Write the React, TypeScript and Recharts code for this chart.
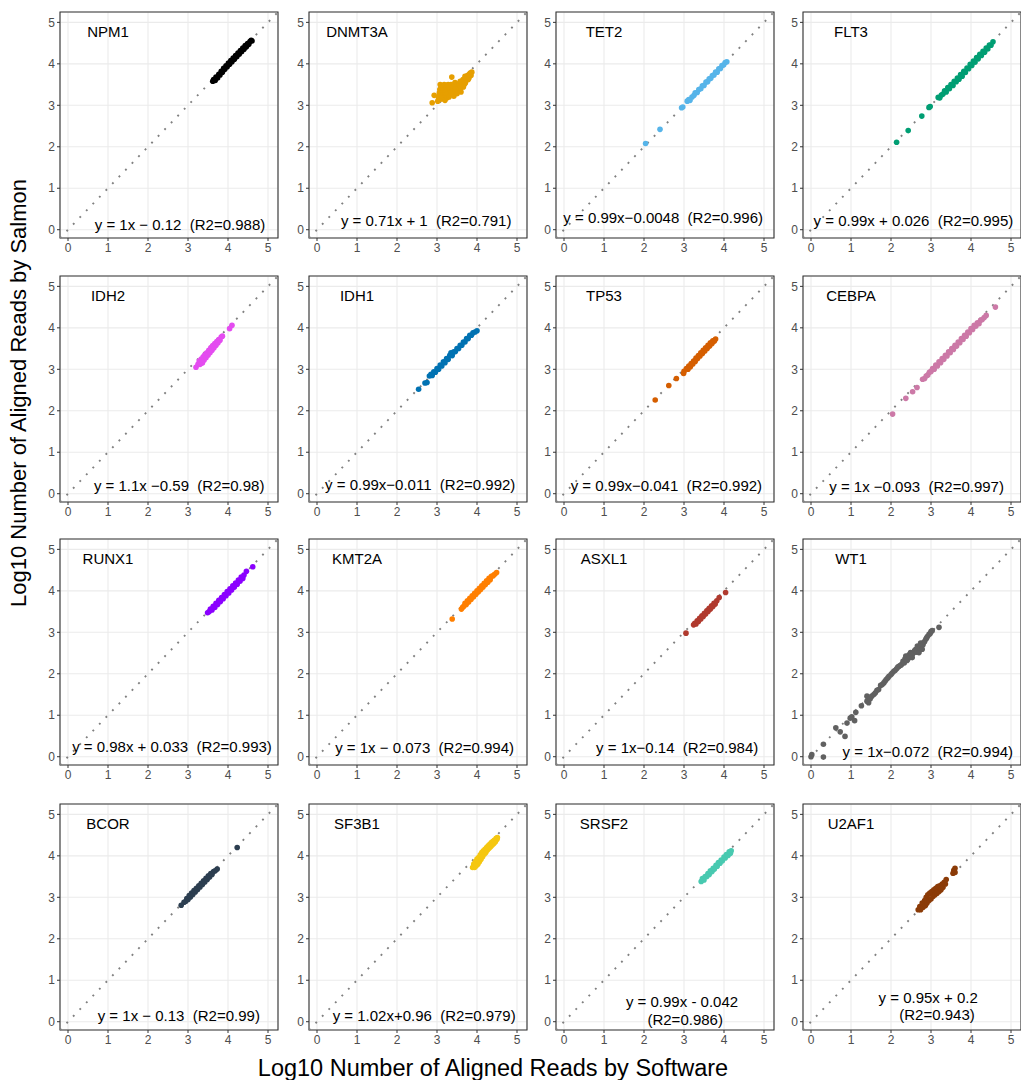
import React from 'react';
import { ScatterChart, Scatter, XAxis, YAxis, CartesianGrid, ReferenceLine, ReferenceArea } from 'recharts';

type P = [number, number];

const genes = ['NPM1', 'DNMT3A', 'TET2', 'FLT3', 'IDH2', 'IDH1', 'TP53', 'CEBPA', 'RUNX1', 'KMT2A', 'ASXL1', 'WT1', 'BCOR', 'SF3B1', 'SRSF2', 'U2AF1'];
const geneColors = ['#000000', '#E69F00', '#56B4E9', '#009E73', '#E44CF0', '#0072B2', '#D55E00', '#CC79A7', '#8B00FF', '#FF7F00', '#B03A2E', '#616161', '#2C3E50', '#F5C710', '#48C9B0', '#8B3B07'];
const axisTicks = [0, 1, 2, 3, 4, 5];

const npm1Points: P[] = [[3.62,3.58],[3.64,3.62],[3.68,3.6],[3.7,3.68],[3.74,3.66],[3.77,3.75],[3.8,3.73],[3.83,3.82],[3.86,3.8],[3.89,3.89],[3.92,3.87],[3.95,3.95],[3.98,3.93],[4.01,4.02],[4.04,3.99],[4.07,4.08],[4.1,4.05],[4.13,4.14],[4.16,4.11],[4.19,4.2],[4.22,4.17],[4.25,4.26],[4.28,4.23],[4.31,4.32],[4.34,4.29],[4.37,4.38],[4.4,4.35],[4.43,4.44],[4.46,4.41],[4.49,4.49],[4.52,4.47],[4.55,4.54],[4.58,4.57],[4.6,4.55]];
const dnmt3aPoints: P[] = [[2.88,3.06],[2.93,3.24],[3.02,3.1],[3.04,3.16],[3.05,3.22],[3.06,3.3],[3.07,3.38],[3.08,3.5],[3.1,3.3],[3.1,3.44],[3.12,3.15],[3.12,3.22],[3.15,3.28],[3.15,3.36],[3.15,3.42],[3.18,3.5],[3.18,3.2],[3.2,3.12],[3.2,3.32],[3.22,3.25],[3.22,3.42],[3.25,3.18],[3.25,3.38],[3.25,3.48],[3.28,3.3],[3.28,3.5],[3.3,3.2],[3.3,3.4],[3.3,3.45],[3.33,3.26],[3.35,3.3],[3.35,3.5],[3.37,3.68],[3.38,3.38],[3.4,3.42],[3.4,3.3],[3.42,3.22],[3.43,3.48],[3.45,3.35],[3.45,3.55],[3.48,3.42],[3.5,3.5],[3.5,3.28],[3.52,3.36],[3.55,3.4],[3.55,3.52],[3.58,3.58],[3.58,3.46],[3.6,3.32],[3.6,3.42],[3.62,3.48],[3.63,3.56],[3.65,3.62],[3.66,3.44],[3.68,3.5],[3.68,3.58],[3.7,3.7],[3.71,3.54],[3.72,3.6],[3.74,3.66],[3.76,3.72],[3.78,3.62],[3.8,3.66],[3.8,3.74],[3.83,3.78],[3.85,3.72],[3.87,3.8]];
const tet2Points: P[] = [[2.04,2.08],[2.4,2.42],[2.94,2.94],[2.97,2.96],[3.08,3.1],[3.12,3.14],[3.15,3.12],[3.2,3.2],[3.25,3.24],[3.28,3.3],[3.33,3.31],[3.37,3.38],[3.42,3.4],[3.46,3.47],[3.5,3.48],[3.55,3.56],[3.59,3.57],[3.63,3.64],[3.67,3.65],[3.71,3.72],[3.75,3.73],[3.79,3.8],[3.83,3.8],[3.87,3.88],[3.91,3.89],[3.95,3.96],[3.99,3.97],[4.03,4.03],[4.07,4.05]];
const flt3Points: P[] = [[2.14,2.11],[2.43,2.39],[2.77,2.74],[2.95,2.95],[2.98,2.97],[3.18,3.19],[3.22,3.18],[3.26,3.25],[3.3,3.27],[3.34,3.35],[3.38,3.32],[3.42,3.43],[3.46,3.4],[3.5,3.5],[3.55,3.48],[3.58,3.58],[3.63,3.57],[3.66,3.66],[3.7,3.63],[3.74,3.74],[3.78,3.7],[3.82,3.82],[3.86,3.79],[3.9,3.9],[3.94,3.88],[3.98,3.99],[4.02,3.96],[4.06,4.07],[4.1,4.04],[4.14,4.15],[4.18,4.12],[4.22,4.23],[4.26,4.2],[4.3,4.3],[4.34,4.28],[4.38,4.38],[4.42,4.36],[4.46,4.45],[4.5,4.45],[4.55,4.53]];
const idh2Points: P[] = [[3.2,3.05],[3.25,3.12],[3.28,3.2],[3.3,3.12],[3.33,3.25],[3.36,3.15],[3.38,3.3],[3.4,3.22],[3.42,3.35],[3.45,3.28],[3.47,3.4],[3.5,3.34],[3.52,3.46],[3.55,3.4],[3.57,3.52],[3.6,3.46],[3.62,3.57],[3.65,3.52],[3.67,3.62],[3.7,3.58],[3.72,3.67],[3.75,3.64],[3.77,3.72],[3.8,3.7],[3.83,3.78],[3.86,3.8],[4.04,3.98],[4.1,4.06]];
const idh1Points: P[] = [[2.54,2.52],[2.7,2.67],[2.75,2.68],[2.81,2.84],[2.85,2.88],[2.88,2.85],[2.92,2.94],[2.96,2.93],[3.0,3.02],[3.04,3.0],[3.08,3.1],[3.12,3.08],[3.16,3.18],[3.2,3.16],[3.24,3.26],[3.28,3.24],[3.32,3.34],[3.35,3.4],[3.38,3.33],[3.42,3.42],[3.46,3.43],[3.5,3.5],[3.54,3.5],[3.58,3.58],[3.62,3.58],[3.66,3.66],[3.7,3.66],[3.74,3.74],[3.78,3.74],[3.82,3.82],[3.86,3.82],[3.9,3.88],[3.95,3.9],[4.0,3.93]];
const tp53Points: P[] = [[2.28,2.26],[2.62,2.61],[2.81,2.78],[2.99,2.9],[3.0,2.95],[3.06,3.02],[3.1,3.0],[3.12,3.08],[3.16,3.06],[3.18,3.14],[3.22,3.13],[3.24,3.2],[3.28,3.19],[3.3,3.27],[3.34,3.26],[3.36,3.33],[3.4,3.32],[3.42,3.4],[3.46,3.38],[3.48,3.46],[3.52,3.44],[3.54,3.52],[3.58,3.5],[3.6,3.58],[3.64,3.56],[3.66,3.64],[3.7,3.62],[3.72,3.69],[3.76,3.68],[3.79,3.73]];
const cebpaPoints: P[] = [[2.04,1.92],[2.37,2.3],[2.54,2.46],[2.65,2.56],[2.79,2.76],[2.84,2.78],[2.88,2.84],[2.92,2.86],[2.96,2.93],[3.0,2.95],[3.04,3.02],[3.08,3.0],[3.12,3.1],[3.16,3.08],[3.2,3.18],[3.24,3.16],[3.28,3.26],[3.32,3.24],[3.36,3.34],[3.4,3.32],[3.44,3.42],[3.48,3.4],[3.52,3.5],[3.56,3.48],[3.6,3.58],[3.64,3.56],[3.68,3.66],[3.72,3.64],[3.76,3.74],[3.8,3.72],[3.84,3.82],[3.88,3.8],[3.92,3.9],[3.96,3.88],[4.0,3.98],[4.04,3.96],[4.08,4.06],[4.12,4.04],[4.16,4.12],[4.2,4.1],[4.24,4.18],[4.28,4.2],[4.33,4.25],[4.38,4.3],[4.61,4.5]];
const runx1Points: P[] = [[3.49,3.47],[3.53,3.5],[3.56,3.56],[3.6,3.54],[3.63,3.63],[3.67,3.6],[3.7,3.7],[3.74,3.67],[3.77,3.77],[3.81,3.74],[3.84,3.84],[3.88,3.81],[3.91,3.91],[3.95,3.88],[3.98,3.98],[4.02,3.95],[4.05,4.05],[4.09,4.02],[4.12,4.12],[4.16,4.09],[4.19,4.19],[4.23,4.16],[4.26,4.26],[4.3,4.23],[4.33,4.33],[4.37,4.3],[4.4,4.38],[4.46,4.47],[4.62,4.58]];
const kmt2aPoints: P[] = [[3.38,3.32],[3.61,3.56],[3.64,3.6],[3.67,3.63],[3.7,3.7],[3.73,3.67],[3.76,3.76],[3.79,3.73],[3.82,3.82],[3.85,3.79],[3.88,3.88],[3.91,3.85],[3.94,3.94],[3.97,3.91],[4.0,4.0],[4.03,3.97],[4.06,4.06],[4.09,4.03],[4.12,4.12],[4.15,4.09],[4.18,4.18],[4.21,4.15],[4.24,4.24],[4.27,4.21],[4.3,4.3],[4.33,4.27],[4.36,4.35],[4.4,4.36],[4.44,4.4],[4.49,4.44]];
const asxl1Points: P[] = [[3.05,2.98],[3.24,3.18],[3.27,3.22],[3.3,3.2],[3.33,3.28],[3.36,3.26],[3.39,3.34],[3.42,3.32],[3.45,3.4],[3.48,3.38],[3.51,3.46],[3.54,3.44],[3.57,3.52],[3.6,3.5],[3.63,3.58],[3.66,3.56],[3.69,3.64],[3.72,3.62],[3.75,3.7],[3.78,3.68],[3.82,3.76],[3.88,3.84],[4.04,3.96]];
const wt1Points: P[] = [[0,0],[0.02,0.05],[0.31,-0.01],[0.31,0.3],[0.62,0.7],[0.73,0.6],[0.85,0.49],[0.9,0.81],[0.98,0.93],[1.02,0.96],[1.09,0.87],[1.12,1.07],[1.26,1.23],[1.4,1.34],[1.4,1.46],[1.44,1.3],[1.48,1.4],[1.52,1.46],[1.57,1.5],[1.61,1.54],[1.65,1.6],[1.69,1.62],[1.74,1.72],[1.78,1.74],[1.82,1.78],[1.85,1.82],[1.88,1.86],[1.92,1.9],[1.95,1.94],[2.0,1.98],[2.03,2.02],[2.07,2.06],[2.1,2.08],[2.14,2.12],[2.17,2.16],[2.2,2.18],[2.23,2.2],[2.26,2.22],[2.3,2.3],[2.33,2.26],[2.35,2.36],[2.37,2.43],[2.4,2.32],[2.42,2.35],[2.45,2.46],[2.47,2.4],[2.49,2.51],[2.53,2.39],[2.53,2.47],[2.56,2.5],[2.59,2.56],[2.62,2.59],[2.64,2.52],[2.66,2.67],[2.7,2.51],[2.7,2.64],[2.72,2.62],[2.74,2.74],[2.76,2.68],[2.78,2.59],[2.8,2.7],[2.82,2.76],[2.84,2.78],[2.87,2.83],[2.89,2.86],[2.91,2.9],[2.95,2.95],[2.98,2.97],[3.0,3.02],[3.03,3.04],[3.2,3.12]];
const bcorPoints: P[] = [[2.83,2.81],[2.9,2.88],[2.94,2.9],[2.97,2.97],[3.0,2.95],[3.03,3.04],[3.06,3.01],[3.09,3.1],[3.12,3.07],[3.15,3.16],[3.18,3.13],[3.21,3.22],[3.24,3.19],[3.27,3.28],[3.3,3.25],[3.33,3.34],[3.36,3.31],[3.39,3.4],[3.42,3.37],[3.45,3.46],[3.48,3.43],[3.51,3.52],[3.54,3.49],[3.57,3.57],[3.6,3.55],[3.64,3.62],[3.68,3.64],[3.73,3.68],[4.23,4.2]];
const sf3b1Points: P[] = [[3.89,3.72],[3.92,3.8],[3.94,3.72],[3.96,3.86],[3.98,3.76],[4.0,3.92],[4.02,3.8],[4.04,3.96],[4.06,3.86],[4.08,4.02],[4.1,3.92],[4.12,4.08],[4.14,3.98],[4.16,4.12],[4.18,4.04],[4.2,4.16],[4.22,4.08],[4.24,4.2],[4.26,4.14],[4.28,4.24],[4.3,4.18],[4.32,4.28],[4.34,4.22],[4.36,4.32],[4.38,4.26],[4.4,4.35],[4.42,4.3],[4.44,4.38],[4.46,4.34],[4.48,4.42],[4.5,4.4],[4.51,4.44]];
const srsf2Points: P[] = [[3.43,3.38],[3.46,3.45],[3.5,3.42],[3.53,3.5],[3.57,3.5],[3.6,3.57],[3.63,3.55],[3.66,3.64],[3.7,3.62],[3.73,3.7],[3.76,3.68],[3.8,3.77],[3.83,3.75],[3.86,3.84],[3.9,3.82],[3.93,3.9],[3.96,3.88],[4.0,3.97],[4.03,3.95],[4.06,4.03],[4.1,4.01],[4.13,4.1],[4.16,4.06],[4.18,4.12]];
const u2af1Points: P[] = [[2.68,2.7],[2.72,2.78],[2.74,2.7],[2.78,2.86],[2.8,2.76],[2.84,2.92],[2.86,2.8],[2.88,3.0],[2.9,2.86],[2.92,3.06],[2.95,2.92],[2.97,3.1],[3.0,2.96],[3.02,3.14],[3.05,3.02],[3.07,3.18],[3.1,3.06],[3.12,3.22],[3.15,3.1],[3.17,3.26],[3.2,3.14],[3.22,3.28],[3.25,3.18],[3.28,3.32],[3.3,3.24],[3.33,3.36],[3.36,3.32],[3.38,3.43],[3.55,3.58],[3.57,3.65],[3.6,3.7],[3.6,3.6]];

const pointsByGene: P[][] = [npm1Points, dnmt3aPoints, tet2Points, flt3Points, idh2Points, idh1Points, tp53Points, cebpaPoints, runx1Points, kmt2aPoints, asxl1Points, wt1Points, bcorPoints, sf3b1Points, srsf2Points, u2af1Points];

const equationLines: string[][] = [
  ['y = 1x \u2212 0.12  (R2=0.988)'],
  ['y = 0.71x + 1  (R2=0.791)'],
  ['y = 0.99x\u22120.0048  (R2=0.996)'],
  ['y = 0.99x + 0.026  (R2=0.995)'],
  ['y = 1.1x \u22120.59  (R2=0.98)'],
  ['y = 0.99x\u22120.011  (R2=0.992)'],
  ['y = 0.99x\u22120.041  (R2=0.992)'],
  ['y = 1x \u22120.093  (R2=0.997)'],
  ['y = 0.98x + 0.033  (R2=0.993)'],
  ['y = 1x \u2212 0.073  (R2=0.994)'],
  ['y = 1x\u22120.14  (R2=0.984)'],
  ['y = 1x\u22120.072  (R2=0.994)'],
  ['y = 1x \u2212 0.13  (R2=0.99)'],
  ['y = 1.02x+0.96  (R2=0.979)'],
  ['y = 0.99x - 0.042', '(R2=0.986)'],
  ['y = 0.95x + 0.2', '(R2=0.943)'],
];
const equationAnchors: P[][] = [
  [[2.8, 0.0]], [[2.73, 0.1]], [[2.48, 0.17]], [[2.56, 0.08]],
  [[2.78, 0.06]], [[2.58, 0.1]], [[2.56, 0.06]], [[2.64, 0.03]],
  [[2.6, 0.12]], [[2.69, 0.1]], [[2.83, 0.1]], [[2.92, 0.0]],
  [[2.77, 0.02]], [[2.68, 0.02]], [[2.95, 0.35], [3.03, -0.07]], [[2.93, 0.45], [3.15, 0.05]],
];
const geneLabelAnchor: P = [1.0, 4.65];

const DOMAIN: [number, number] = [-0.2, 5.25];
const COL_LEFT = [60, 309, 556, 803];
const ROW_TOP = [12, 276, 539, 804];
const Y_AXIS_W = 28;
const FONT = '"Liberation Sans", Arial, Helvetica, sans-serif';

const makeDot = (color: string) => (p: any) => (
  <circle cx={p.cx} cy={p.cy} r={2.8} fill={color} stroke="none" />
);

const textShape = (p: any) => (
  <text
    x={p.cx}
    y={p.cy}
    textAnchor="middle"
    fontSize={p.payload.size}
    fill="#000"
    xmlSpace="preserve"
    style={{ whiteSpace: 'pre', fontFamily: FONT }}
  >
    {p.payload.text}
  </text>
);

function Panel({ idx }: { idx: number }) {
  const col = idx % 4;
  const row = Math.floor(idx / 4);
  const left = COL_LEFT[col] - Y_AXIS_W;
  const top = ROW_TOP[row] - 2;
  const pts = pointsByGene[idx].map(([x, y]) => ({ x, y }));
  const labels = [
    { x: geneLabelAnchor[0], y: geneLabelAnchor[1], text: genes[idx], size: 15 },
    ...equationLines[idx].map((t, i) => ({ x: equationAnchors[idx][i][0], y: equationAnchors[idx][i][1], text: t, size: 15 })),
  ];
  return (
    <div style={{ position: 'absolute', left, top }}>
      <ScatterChart width={248} height={250} margin={{ top: 2, right: 2, bottom: 0, left: 0 }} style={{ fontFamily: FONT }}>
        <CartesianGrid stroke="#EBEBEB" strokeWidth={1.1} />
        <XAxis
          type="number"
          dataKey="x"
          domain={DOMAIN}
          ticks={axisTicks}
          allowDataOverflow
          interval={0}
          height={22}
          tickSize={3}
          axisLine={false}
          tickLine={{ stroke: '#333333' }}
          tick={{ fill: '#4D4D4D', fontSize: 12 }}
        />
        <YAxis
          type="number"
          dataKey="y"
          domain={DOMAIN}
          ticks={axisTicks}
          allowDataOverflow
          interval={0}
          width={Y_AXIS_W}
          tickSize={3}
          axisLine={false}
          tickLine={{ stroke: '#333333' }}
          tick={{ fill: '#4D4D4D', fontSize: 12 }}
        />
        <ReferenceLine
          segment={[{ x: DOMAIN[0], y: DOMAIN[0] }, { x: DOMAIN[1], y: DOMAIN[1] }]}
          stroke="#808080"
          strokeWidth={1.9}
          strokeDasharray="1.9 7.5"
          ifOverflow="visible"
        />
        <Scatter data={pts} isAnimationActive={false} shape={makeDot(geneColors[idx])} />
        <Scatter data={labels} isAnimationActive={false} shape={textShape} />
        <ReferenceArea
          x1={DOMAIN[0]}
          x2={DOMAIN[1]}
          y1={DOMAIN[0]}
          y2={DOMAIN[1]}
          fill="none"
          fillOpacity={0}
          stroke="#333333"
          strokeWidth={1.1}
          ifOverflow="visible"
        />
      </ScatterChart>
    </div>
  );
}

export default function App() {
  return (
    <div style={{ position: 'absolute', left: 0, top: 0, width: 1021, height: 1080, background: '#fff', fontFamily: FONT }}>
      {genes.map((g, i) => (
        <Panel key={g} idx={i} />
      ))}
      <svg width={1021} height={1080} style={{ position: 'absolute', left: 0, top: 0, pointerEvents: 'none' }}>
        <text x={493} y={1076} textAnchor="middle" fontSize={23.5} fill="#000" style={{ fontFamily: FONT }}>
          Log10 Number of Aligned Reads by Software
        </text>
        <text
          x={0}
          y={0}
          transform="translate(26, 393) rotate(-90)"
          textAnchor="middle"
          fontSize={22}
          fill="#000"
          style={{ fontFamily: FONT }}
        >
          Log10 Number of Aligned Reads by Salmon
        </text>
      </svg>
    </div>
  );
}
